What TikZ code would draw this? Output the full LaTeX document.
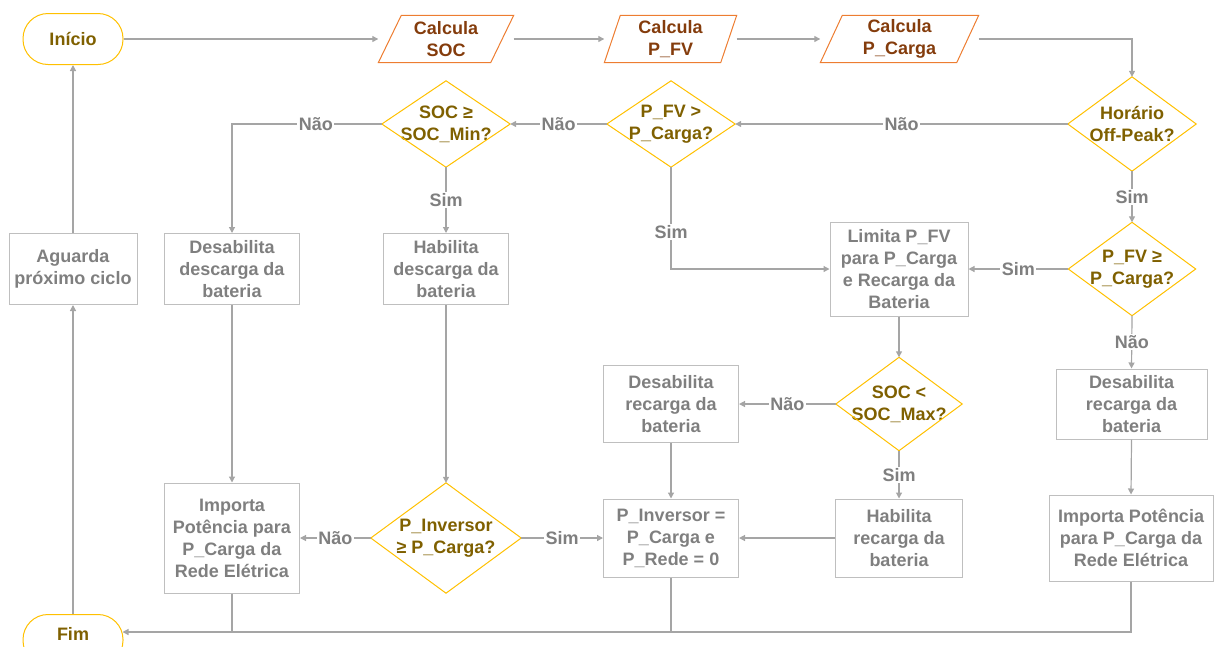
\documentclass[tikz,border=0pt]{standalone}
\usepackage{fontspec}
\setmainfont{Liberation Sans}
\usetikzlibrary{arrows.meta}
\definecolor{conn}{HTML}{A5A5A5}
\definecolor{boxb}{HTML}{BFBFBF}
\definecolor{boxt}{HTML}{7F7F7F}
\definecolor{dect}{HTML}{7F6000}
\definecolor{decb}{HTML}{FFC000}
\definecolor{parb}{HTML}{ED7D31}
\definecolor{part}{HTML}{843C0C}
\begin{document}
\begin{tikzpicture}[x=1pt,y=-1pt,
 every node/.style={font=\bfseries\fontsize{18}{22}\selectfont, align=center, inner sep=0pt},
 term/.style={draw=decb, line width=1pt, rounded corners=25pt, minimum width=100pt, minimum height=51pt, text=dect},
 proc/.style={draw=boxb, line width=1pt, text=boxt},
 dec/.style={text=dect},
 io/.style={text=part, minimum height=47pt},
 arr/.style={draw=conn, line width=1.2pt, -{Triangle[length=6pt,width=6pt]}},
 ln/.style={draw=conn, line width=1.2pt},
 lbl/.style={fill=white, text=boxt, inner sep=1.5pt}
]
\useasboundingbox (0,0) rectangle (1214,646);

% terminals
\node[term] (ini) at (73,39) {Início};
\node[term] (fim) at (73,640) {\raisebox{12pt}{Fim}};
\coordinate (fimin) at ([yshift=8pt,xshift=-1pt]fim.east);

% input/output
\node[io, minimum width=112pt] (soc) at (446,39) {Calcula\\SOC};
\node[io, minimum width=116pt] (pfv) at (670.5,39) {Calcula\\P\_FV};
\node[io, minimum width=136pt] (pcar) at (899.5,39) {Calcula\\P\_Carga};
\foreach \n/\s in {soc/11.5,pfv/8,pcar/11}
  \draw[parb, line width=1pt] ([xshift=-\s pt]\n.south west) -- ([xshift=-\s pt]\n.south east)
     -- ([xshift=\s pt]\n.north east) -- ([xshift=\s pt]\n.north west) -- cycle;

% decisions
\node[dec, minimum width=128pt, minimum height=94pt] (hor) at (1132,124) {Horário\\Off-Peak?};
\node[dec, minimum width=128pt, minimum height=86pt] (pfvd) at (671,124) {P\_FV >\\P\_Carga?};
\node[dec, minimum width=128pt, minimum height=86pt] (socd) at (446,124) {SOC ≥\\SOC\_Min?};
\node[dec, minimum width=127pt, minimum height=93pt] (pfvg) at (1132,269) {P\_FV ≥\\P\_Carga?};
\node[dec, minimum width=126pt, minimum height=93pt] (socm) at (899,404) {SOC <\\SOC\_Max?};
\node[dec, minimum width=150pt, minimum height=110pt] (pinvd) at (446,538) {P\_Inversor\\≥ P\_Carga?};
\foreach \n in {hor,pfvd,socd,pfvg,socm,pinvd}
  \draw[decb, line width=1pt] (\n.north) -- (\n.east) -- (\n.south) -- (\n.west) -- cycle;

% processes
\node[proc, minimum width=128pt, minimum height=71pt] (agu) at (73,269) {Aguarda\\próximo ciclo};
\node[proc, minimum width=135pt, minimum height=71pt] (desd) at (232,269) {Desabilita\\descarga da\\bateria};
\node[proc, minimum width=125pt, minimum height=71pt] (habd) at (446,269) {Habilita\\descarga da\\bateria};
\node[proc, minimum width=138pt, minimum height=94pt] (lim) at (899,269) {Limita P\_FV\\para P\_Carga\\e Recarga da\\Bateria};
\node[proc, minimum width=135pt, minimum height=77pt] (desrm) at (671,404) {Desabilita\\recarga da\\bateria};
\node[proc, minimum width=151pt, minimum height=70pt] (desrr) at (1131.5,404) {Desabilita\\recarga da\\bateria};
\node[proc, minimum width=127pt, minimum height=78pt] (habr) at (899,538) {Habilita\\recarga da\\bateria};
\node[proc, minimum width=135pt, minimum height=78pt] (pinv) at (671,538) {P\_Inversor =\\P\_Carga e\\P\_Rede = 0};
\node[proc, minimum width=135pt, minimum height=110pt] (impl) at (232,538) {Importa\\Potência para\\P\_Carga da\\Rede Elétrica};
\node[proc, minimum width=164pt, minimum height=86pt] (impr) at (1131,538) {Importa Potência\\para P\_Carga da\\Rede Elétrica};

% connectors
\draw[arr] (ini.east) -- ([xshift=-11.5pt]soc.west);
\draw[arr] ([xshift=11.5pt]soc.east) -- ([xshift=-8pt]pfv.west);
\draw[arr] ([xshift=8pt]pfv.east) -- ([xshift=-11pt]pcar.west);
\draw[arr] ([xshift=11pt]pcar.east) -| (hor.north);
\draw[arr] (hor.west) -- node[lbl]{Não} (pfvd.east);
\draw[arr] (pfvd.west) -- node[lbl]{Não} (socd.east);
\draw[arr] (socd.west) -| node[lbl, pos=0.22]{Não} (desd.north);
\draw[arr] (socd.south) -- node[lbl]{Sim} (habd.north);
\draw[arr] (pfvd.south) |- node[lbl, pos=0.32]{Sim} (lim.west);
\draw[arr] (hor.south) -- node[lbl]{Sim} (pfvg.north);
\draw[arr] (pfvg.west) -- node[lbl]{Sim} (lim.east);
\draw[arr] (pfvg.south) -- node[lbl]{Não} (desrr.north);
\draw[arr] (lim.south) -- (socm.north);
\draw[arr] (socm.west) -- node[lbl]{Não} (desrm.east);
\draw[arr] (socm.south) -- node[lbl]{Sim} (habr.north);
\draw[arr] (desrm.south) -- (pinv.north);
\draw[arr] (habr.west) -- (pinv.east);
\draw[arr] (desrr.south) -- (impr.north);
\draw[arr] (desd.south) -- (impl.north);
\draw[arr] (habd.south) -- (pinvd.north);
\draw[arr] (pinvd.west) -- node[lbl]{Não} (impl.east);
\draw[arr] (pinvd.east) -- node[lbl]{Sim} (pinv.west);
\draw[arr] (impr.south) |- (fimin);
\draw[ln] (pinv.south) -- (pinv.south |- fimin);
\draw[ln] (impl.south) -- (impl.south |- fimin);
\draw[arr] (fim.north) -- (agu.south);
\draw[arr] (agu.north) -- (ini.south);
\end{tikzpicture}
\end{document}
